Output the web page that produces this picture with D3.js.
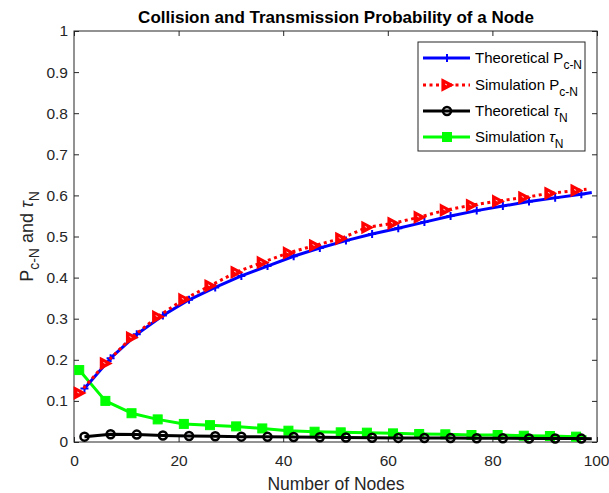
<!DOCTYPE html>
<html>
<head>
<meta charset="utf-8">
<script src="https://cdn.jsdelivr.net/npm/d3@7"></script>
<style>
  body { margin: 0; background: #fff; }
  svg { display: block; font-family: "Liberation Sans", Arial, Helvetica, sans-serif; }
</style>
</head>
<body>
<svg id="chart" width="609" height="493"></svg>
<script>
// ---- data ----
const titleText = "Collision and Transmission Probability of a Node";
const xLabelText = "Number of Nodes";
const xTicks = [0, 20, 40, 60, 80, 100];
const yTicks = [0, 0.1, 0.2, 0.3, 0.4, 0.5, 0.6, 0.7, 0.8, 0.9, 1];

// theoretical curves: marker points at 2,7,...,97 plus line end at 99
const theoryNodes = [2, 7, 12, 17, 22, 27, 32, 37, 42, 47, 52, 57, 62, 67, 72, 77, 82, 87, 92, 97, 99];
const theoryPcN   = [0.130, 0.204, 0.262, 0.308, 0.346, 0.376, 0.404, 0.428, 0.452, 0.472, 0.490, 0.506, 0.520, 0.535, 0.550, 0.563, 0.574, 0.585, 0.594, 0.603, 0.607];
const theoryTau   = [0.013, 0.019, 0.018, 0.016, 0.0146, 0.014, 0.013, 0.0125, 0.012, 0.0115, 0.011, 0.0105, 0.010, 0.0098, 0.0095, 0.0092, 0.009, 0.0087, 0.0085, 0.0083, 0.0082];

// simulation curves: marker points at 1,6,...,96 plus line end at 98
const simNodes = [1, 6, 11, 16, 21, 26, 31, 36, 41, 46, 51, 56, 61, 66, 71, 76, 81, 86, 91, 96, 98];
const simPcN   = [0.119, 0.191, 0.254, 0.305, 0.347, 0.380, 0.413, 0.437, 0.460, 0.478, 0.495, 0.522, 0.532, 0.547, 0.564, 0.576, 0.586, 0.595, 0.605, 0.612, 0.615];
const simTau   = [0.175, 0.100, 0.070, 0.055, 0.044, 0.041, 0.038, 0.033, 0.0275, 0.025, 0.0235, 0.0227, 0.021, 0.0195, 0.0187, 0.017, 0.017, 0.0153, 0.0146, 0.013, 0.0128];

const seriesNames = ["Theoretical P", "Simulation P", "Theoretical \u03C4", "Simulation \u03C4"];
const seriesSubs  = ["c-N", "c-N", "N", "N"];

// ---- layout ----
const svg = d3.select("#chart");
const L = 74, R = 597, T = 31, B = 442;
const x = d3.scaleLinear().domain([0, 100]).range([L, R]);
const y = d3.scaleLinear().domain([0, 1]).range([B, T]);
const axisColor = "#262626";
const txtColor = "#262626";

// axes (box with ticks on all sides, ticks inward)
const g = svg.append("g");
const xAxisB = d3.axisBottom(x).tickValues(xTicks).tickSize(-5).tickPadding(13).tickFormat(d3.format("d"));
const xAxisT = d3.axisTop(x).tickValues(xTicks).tickSize(-5).tickFormat("");
const yAxisL = d3.axisLeft(y).tickValues(yTicks).tickSize(-5).tickPadding(6).tickFormat(d => d === 0 ? "0" : d === 1 ? "1" : d3.format(".1f")(d));
const yAxisR = d3.axisRight(y).tickValues(yTicks).tickSize(-5).tickFormat("");

function styleAxis(sel) {
  sel.select(".domain").attr("stroke", axisColor).attr("stroke-width", 1);
  sel.selectAll(".tick line").attr("stroke", axisColor).attr("stroke-width", 1);
  sel.selectAll(".tick text").attr("fill", txtColor).style("font-size", "15.5px");
}
const gxb = g.append("g").attr("transform", `translate(0,${B})`).call(xAxisB).call(styleAxis);
// keep the last x tick label inside the window
gxb.selectAll(".tick text").filter(d => d === 100).attr("text-anchor", "end").attr("x", 12);
g.append("g").attr("transform", `translate(0,${T})`).call(xAxisT).call(styleAxis);
g.append("g").attr("transform", `translate(${L},0)`).call(yAxisL).call(styleAxis);
g.append("g").attr("transform", `translate(${R},0)`).call(yAxisR).call(styleAxis);
svg.selectAll(".domain").attr("d", null);
svg.append("rect").attr("x", L).attr("y", T).attr("width", R - L).attr("height", B - T)
  .attr("fill", "none").attr("stroke", axisColor).attr("stroke-width", 1);

// title & labels
svg.append("text").attr("x", 336).attr("y", 23).attr("text-anchor", "middle")
  .attr("fill", "#000").style("font-size", "17px").style("font-weight", "bold").text(titleText);
svg.append("text").attr("x", 336).attr("y", 490).attr("text-anchor", "middle")
  .attr("fill", txtColor).style("font-size", "17.5px").text(xLabelText);

const yl = svg.append("text").attr("transform", `translate(33,${(T + B) / 2}) rotate(-90)`)
  .attr("text-anchor", "middle").attr("fill", txtColor).style("font-size", "18px");
yl.append("tspan").text("P");
yl.append("tspan").attr("dy", 6).style("font-size", "14px").text("c-N");
yl.append("tspan").attr("dy", -6).text(" and ");
yl.append("tspan").style("font-style", "italic").text("\u03C4");
yl.append("tspan").attr("dy", 6).style("font-size", "14px").text("N");

// ---- series ----
const clip = svg.append("defs").append("clipPath").attr("id", "clip");
clip.append("rect").attr("x", L).attr("y", T).attr("width", R - L).attr("height", B - T);
const plot = svg.append("g");

function pts(xs, ys) { return xs.map((d, i) => [d, ys[i]]); }
const line = d3.line().x(d => x(d[0])).y(d => y(d[1]));

const dTP = pts(theoryNodes, theoryPcN);
const dSP = pts(simNodes, simPcN);
const dTT = pts(theoryNodes, theoryTau);
const dST = pts(simNodes, simTau);

// marker drawing functions
function plusMarker(sel, cx, cy, color) {
  sel.append("path").attr("d", `M${cx - 4},${cy}H${cx + 4}M${cx},${cy - 4}V${cy + 4}`)
    .attr("stroke", color).attr("stroke-width", 2).attr("fill", "none");
}
function triMarker(sel, cx, cy, color) {
  sel.append("path").attr("d", `M${cx - 4.5},${cy - 5}L${cx + 5},${cy}L${cx - 4.5},${cy + 5}Z`)
    .attr("stroke", color).attr("stroke-width", 2.2).attr("fill", color).attr("stroke-linejoin", "miter");
  sel.append("path").attr("d", `M${cx - 2},${cy - 1}L${cx},${cy}`)
    .attr("stroke", "#ffd0d0").attr("stroke-width", 1);
}
function circMarker(sel, cx, cy, color) {
  sel.append("circle").attr("cx", cx).attr("cy", cy).attr("r", 4)
    .attr("stroke", color).attr("stroke-width", 2.5).attr("fill", "none");
}
function sqMarker(sel, cx, cy, color) {
  sel.append("rect").attr("x", cx - 4.5).attr("y", cy - 4.5).attr("width", 9).attr("height", 9)
    .attr("fill", color).attr("stroke", color).attr("stroke-width", 1);
}

const series = [
  { data: dTP, color: "#0000ff", dash: null, marker: plusMarker },
  { data: dSP, color: "#ff0000", dash: "3,3.5", marker: triMarker },
  { data: dTT, color: "#000000", dash: null, marker: circMarker },
  { data: dST, color: "#00ff00", dash: null, marker: sqMarker }
];

// draw green and black first (bottom), then blue and red
const order = [3, 2, 0, 1];
order.forEach(i => {
  const s = series[i];
  plot.append("path").datum(s.data).attr("d", line)
    .attr("fill", "none").attr("stroke", s.color).attr("stroke-width", 3)
    .attr("stroke-dasharray", s.dash).attr("stroke-linecap", "butt")
    .attr("stroke-linejoin", "round").attr("clip-path", "url(#clip)");
  const mg = plot.append("g");
  s.data.slice(0, s.data.length - 1).forEach(d => s.marker(mg, x(d[0]), y(d[1]), s.color));
});

// ---- legend ----
const lg = svg.append("g");
const lgX = 418, lgY = 42, lgW = 167, lgH = 109;
lg.append("rect").attr("x", lgX).attr("y", lgY).attr("width", lgW).attr("height", lgH)
  .attr("fill", "#fff").attr("stroke", axisColor).attr("stroke-width", 1);
const rowY = [58, 85, 111, 137];
series.forEach((s, i) => {
  const ry = rowY[i];
  lg.append("path").attr("d", `M423,${ry}H470`).attr("stroke", s.color).attr("stroke-width", 3)
    .attr("stroke-dasharray", s.dash).attr("stroke-linecap", "butt").attr("fill", "none");
  s.marker(lg, 447, ry, s.color);
  const t = lg.append("text").attr("x", 475).attr("y", ry + 5).attr("fill", "#000").style("font-size", "15px");
  const base = seriesNames[i];
  if (i >= 2) {
    t.append("tspan").text(base.slice(0, -1));
    t.append("tspan").style("font-style", "italic").text(base.slice(-1));
  } else {
    t.append("tspan").text(base);
  }
  t.append("tspan").attr("dy", 6).style("font-size", "12px").text(seriesSubs[i]);
});
</script>
</body>
</html>
